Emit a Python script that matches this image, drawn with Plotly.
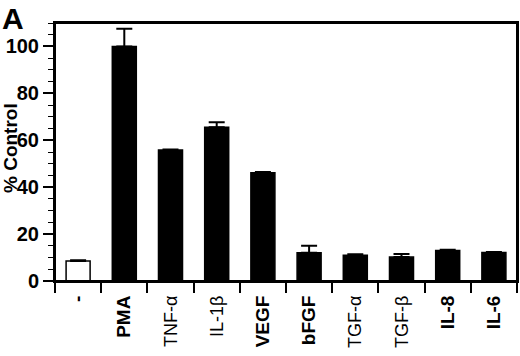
import plotly.graph_objects as go

categories = ["-", "PMA", "TNF-α", "IL-1β", "VEGF", "bFGF", "TGF-α", "TGF-β", "IL-8", "IL-6"]
values = [8.5, 100, 55.8, 65.5, 46.2, 12.0, 11.0, 10.2, 13.0, 12.2]
errors = [0.4, 7.5, 0.3, 2.2, 0.3, 3.0, 0.4, 1.3, 0.3, 0.2]
bold_labels = [True, True, False, False, True, True, False, False, True, True]
y_ticks = [0, 20, 40, 60, 80, 100]

colors = ["white"] + ["black"] * (len(categories) - 1)

tick_text = []
for c, b in zip(categories, bold_labels):
    if b:
        tick_text.append(f"<b>{c}</b>")
    else:
        tick_text.append(f"<span style='font-size:18px;fill:black'>{c}</span>")

W, H = 520, 356
ML, MR, MT, MB = 55, 3, 23, 75
PW, PH = W - ML - MR, H - MT - MB

fig = go.Figure()
fig.add_trace(go.Bar(
    x=categories, y=values,
    marker=dict(color=colors, line=dict(color="black", width=1.5)),
    width=0.52,
    error_y=dict(type="data", array=errors, arrayminus=[0] * len(errors),
                 symmetric=False, color="black", thickness=2, width=8),
))

fig.update_layout(
    width=W, height=H,
    margin=dict(l=ML, r=MR, t=MT, b=MB, autoexpand=False),
    plot_bgcolor="white", paper_bgcolor="white",
    showlegend=False,
    font=dict(family="Liberation Sans, Arial, sans-serif", color="black"),
)
fig.update_xaxes(
    type="category", range=[-0.5, 9.5], automargin=False,
    tickmode="array", tickvals=categories, ticktext=tick_text,
    tickson="boundaries", ticks="outside", ticklen=10, tickwidth=1.5, tickcolor="black",
    tickangle=-90, tickfont=dict(size=19, color="black"), ticklabelstandoff=5,
    showline=True, linecolor="black", linewidth=2, mirror=True,
    showgrid=False,
)
fig.update_yaxes(
    range=[0, 110], automargin=False,
    tickmode="array", tickvals=y_ticks, ticktext=[f"<b>{v}</b>" for v in y_ticks],
    ticks="outside", ticklen=10, tickwidth=1.5, tickcolor="black",
    tickfont=dict(size=20, color="black"),
    minor=dict(dtick=5, tick0=0, ticks="outside", ticklen=5, tickwidth=1, tickcolor="black", showgrid=False),
    showline=True, linecolor="black", linewidth=2, mirror=True,
    showgrid=False, zeroline=False,
)
fig.add_shape(type="rect", xref="paper", yref="paper", x0=0, x1=1, y0=0, y1=1,
              line=dict(color="black", width=2), layer="above")
fig.add_annotation(
    text="<b>% Control</b>", xref="paper", yref="paper",
    x=(10 - ML) / PW, y=(H - MB - 148) / PH, xanchor="center", yanchor="middle",
    textangle=-90, showarrow=False, font=dict(size=19, color="black"),
)
fig.add_annotation(
    text="<b>A</b>", xref="paper", yref="paper",
    x=-ML / PW, y=1 + MT / PH, xanchor="left", yanchor="top",
    showarrow=False, font=dict(size=30, color="black"),
)

fig.write_html(
    "out.html",
    config={"displayModeBar": False},
    post_script="document.body.style.margin='0';document.body.style.overflow='hidden';",
)
